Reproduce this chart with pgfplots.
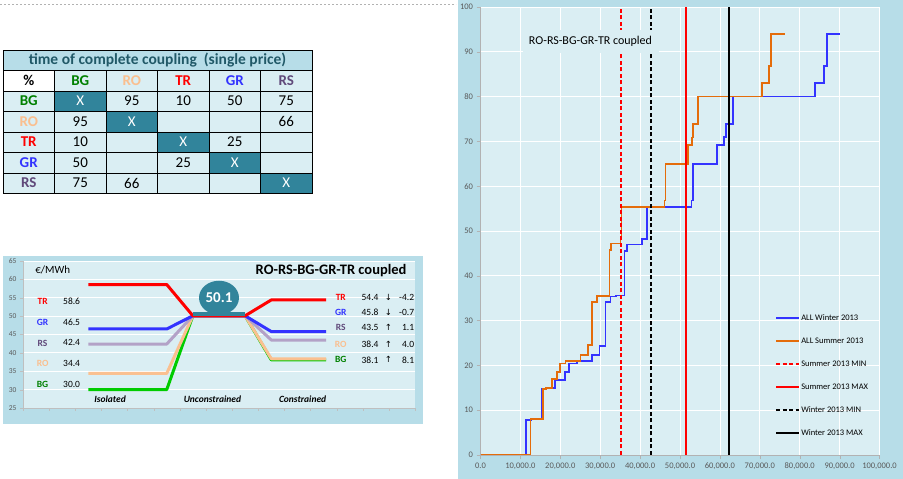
\documentclass[border=0pt]{standalone}
\usepackage{pgfplots}
\pgfplotsset{compat=1.18}
\usetikzlibrary{shapes.geometric}
\usepackage{fontspec}
\setmainfont{Carlito}
\newfontfamily\djv{DejaVu Sans}
\definecolor{frameblue}{HTML}{B7DDE8}
\definecolor{plotbg}{HTML}{DAEEF3}
\definecolor{tealc}{HTML}{31849B}
\definecolor{titlecol}{HTML}{215968}
\definecolor{bgc}{HTML}{008000}
\definecolor{roc}{HTML}{FABF8F}
\definecolor{trc}{HTML}{FF0000}
\definecolor{grc}{HTML}{3333FF}
\definecolor{rsc}{HTML}{60497A}
\definecolor{bgline}{HTML}{00CC00}
\definecolor{roline}{HTML}{FAC090}
\definecolor{rsline}{HTML}{B3A2C7}
\definecolor{winter}{HTML}{3333FF}
\definecolor{summer}{HTML}{E46C0A}
\definecolor{ticktext}{HTML}{595959}
\newcommand{\tc}[3]{\node[font=\fontsize{15}{18}\selectfont, anchor=center] at ({28.75+51.5*#1},{398.5-20.5*#2}) {#3};}
\begin{document}
\begin{tikzpicture}[x=1pt,y=1pt]
\path[use as bounding box] (0pt,0pt) rectangle (903pt,479pt);
\draw[gray!60, dash pattern=on 2pt off 2pt, line width=0.6pt] (0,475) -- (456,475);
% ---------- table ----------
\fill[frameblue] (3,409) rectangle (312,429);
\fill[plotbg] (3,285.5) rectangle (312,409);
\fill[white] (3,388) rectangle (54.5,409);
\foreach \r in {1,...,5}{
  \fill[tealc] ({3+51.5*\r},{388-(\r-1)*20.5}) rectangle ({54.5+51.5*\r},{388-\r*20.5});
}
\draw[black, line width=0.6pt] (3,285.5) rectangle (312,429);
\foreach \yy in {409,388,367.5,347,326.5,306}{\draw[black, line width=0.6pt] (3,\yy) -- (312,\yy);}
\foreach \xx in {54.5,106,157.5,209,260.5}{\draw[black, line width=0.6pt] (\xx,285.5) -- (\xx,409);}
\node[font=\fontsize{15.5}{18}\bfseries, text=titlecol] at (157.5,419) {time of complete coupling~~(single price)};
\tc{0}{0}{\bfseries\%}
\tc{1}{0}{\bfseries\color{bgc}BG}
\tc{2}{0}{\bfseries\color{roc}RO}
\tc{3}{0}{\bfseries\color{trc}TR}
\tc{4}{0}{\bfseries\color{grc}GR}
\tc{5}{0}{\bfseries\color{rsc}RS}
\tc{0}{1}{\bfseries\color{bgc}BG}
\tc{0}{2}{\bfseries\color{roc}RO}
\tc{0}{3}{\bfseries\color{trc}TR}
\tc{0}{4}{\bfseries\color{grc}GR}
\tc{0}{5}{\bfseries\color{rsc}RS}
\tc{1}{1}{\color{white}X}\tc{2}{1}{95}\tc{3}{1}{10}\tc{4}{1}{50}\tc{5}{1}{75}
\tc{1}{2}{95}\tc{2}{2}{\color{white}X}\tc{5}{2}{66}
\tc{1}{3}{10}\tc{3}{3}{\color{white}X}\tc{4}{3}{25}
\tc{1}{4}{50}\tc{3}{4}{25}\tc{4}{4}{\color{white}X}
\tc{1}{5}{75}\tc{2}{5}{66}\tc{5}{5}{\color{white}X}
% ---------- small price chart ----------
\fill[frameblue] (3,55) rectangle (423,223);
\begin{axis}[
  at={(23pt,71pt)}, anchor=south west, scale only axis, width=392pt, height=147pt,
  xmin=0, xmax=15, ymin=25, ymax=65,
  axis background/.style={fill=plotbg},
  axis lines*=left, axis line style={draw=gray!50},
  xtick={0,...,15}, xticklabels={},
  ytick={25,30,...,65},
  ymajorgrids, grid style={white, line width=0.8pt},
  tick align=outside, major tick length=3pt, tick style={gray!50},
  ticklabel style={font=\fontsize{7.5}{9}\selectfont, text=ticktext},
  /pgf/number format/assume math mode=true,
  clip=false,
]
\addplot[bgline, line width=3pt, line join=round] coordinates {(2.5,30.0)(5.5,30.0)(6.5,50.1)(8.5,50.1)(9.5,38.1)(11.6,38.1)};
\addplot[roline, line width=3pt, line join=round] coordinates {(2.5,34.4)(5.5,34.4)(6.5,50.1)(8.5,50.1)(9.5,38.4)(11.6,38.4)};
\addplot[rsline, line width=3pt, line join=round] coordinates {(2.5,42.4)(5.5,42.4)(6.5,50.1)(8.5,50.1)(9.5,43.5)(11.6,43.5)};
\addplot[winter, line width=3pt, line join=round] coordinates {(2.5,46.5)(5.5,46.5)(6.5,50.1)(8.5,50.1)(9.5,45.8)(11.6,45.8)};
\addplot[trc, line width=3pt, line join=round] coordinates {(2.5,58.6)(5.5,58.6)(6.5,50.1)(8.5,50.1)(9.5,54.4)(11.6,54.4)};
\fill[tealc] (axis cs:6.5,49.9) rectangle (axis cs:8.5,51.2);
\node[ellipse, fill=tealc, minimum width=40pt, minimum height=34pt, inner sep=0pt, text=white, font=\fontsize{15}{17}\bfseries] at (axis cs:7.5,55.0) {50.1};
\node[anchor=west, font=\fontsize{11}{13}\selectfont] at (axis cs:0.34,62.55) {€/MWh};
\node[anchor=east, font=\fontsize{14.5}{17}\bfseries] at (axis cs:14.81,62.3) {RO-RS-BG-GR-TR coupled};
\begin{scope}[font=\fontsize{9.5}{11}\selectfont]
\node[text=trc, font=\fontsize{9.5}{11}\bfseries] at (axis cs:0.75,54.1) {TR};
\node[text=grc, font=\fontsize{9.5}{11}\bfseries] at (axis cs:0.75,48.4) {GR};
\node[text=rsc, font=\fontsize{9.5}{11}\bfseries] at (axis cs:0.75,42.7) {RS};
\node[text=roc, font=\fontsize{9.5}{11}\bfseries] at (axis cs:0.75,37.0) {RO};
\node[text=bgc, font=\fontsize{9.5}{11}\bfseries] at (axis cs:0.75,31.3) {BG};
\node at (axis cs:1.86,54.1) {58.6};
\node at (axis cs:1.86,48.4) {46.5};
\node at (axis cs:1.86,42.7) {42.4};
\node at (axis cs:1.86,37.0) {34.4};
\node at (axis cs:1.86,31.3) {30.0};
\node[text=trc, font=\fontsize{9.5}{11}\bfseries] at (axis cs:12.16,55.2) {TR};
\node[text=grc, font=\fontsize{9.5}{11}\bfseries] at (axis cs:12.16,51.1) {GR};
\node[text=rsc, font=\fontsize{9.5}{11}\bfseries] at (axis cs:12.16,46.8) {RS};
\node[text=roc, font=\fontsize{9.5}{11}\bfseries] at (axis cs:12.16,42.4) {RO};
\node[text=bgc, font=\fontsize{9.5}{11}\bfseries] at (axis cs:12.16,38.1) {BG};
\node at (axis cs:13.28,55.2) {54.4};
\node at (axis cs:13.28,51.1) {45.8};
\node at (axis cs:13.28,46.8) {43.5};
\node at (axis cs:13.28,42.4) {38.4};
\node at (axis cs:13.28,38.1) {38.1};
\node[font=\djv\fontsize{8.5}{10}\selectfont] at (axis cs:13.98,55.2) {↓};
\node[font=\djv\fontsize{8.5}{10}\selectfont] at (axis cs:13.98,51.1) {↓};
\node[font=\djv\fontsize{8.5}{10}\selectfont] at (axis cs:13.98,46.8) {↑};
\node[font=\djv\fontsize{8.5}{10}\selectfont] at (axis cs:13.98,42.4) {↑};
\node[font=\djv\fontsize{8.5}{10}\selectfont] at (axis cs:13.98,38.1) {↑};
\node[anchor=east] at (axis cs:15.1,55.2) {-4.2};
\node[anchor=east] at (axis cs:15.1,51.1) {-0.7};
\node[anchor=east] at (axis cs:15.1,46.8) {1.1};
\node[anchor=east] at (axis cs:15.1,42.4) {4.0};
\node[anchor=east] at (axis cs:15.1,38.1) {8.1};
\end{scope}
\node[font=\fontsize{9.5}{11}\bfseries\itshape] at (axis cs:3.33,27.5) {Isolated};
\node[font=\fontsize{9.5}{11}\bfseries\itshape] at (axis cs:7.25,27.5) {Unconstrained};
\node[font=\fontsize{9.5}{11}\bfseries\itshape] at (axis cs:10.7,27.5) {Constrained};
\end{axis}
% ---------- right step chart ----------
\fill[frameblue] (458,0) rectangle (903,479);
\begin{axis}[
  at={(480.5pt,24pt)}, anchor=south west, scale only axis, width=399pt, height=448pt,
  xmin=0, xmax=100000, ymin=0, ymax=100,
  axis background/.style={fill=plotbg},
  axis lines*=left, axis line style={draw=gray!60},
  xtick={0,10000,...,100000}, ytick={0,10,...,100},
  xmajorgrids, ymajorgrids, grid style={white, line width=0.8pt},
  tick align=outside, major tick length=4pt, tick style={gray!60},
  scaled x ticks=false,
  /pgf/number format/assume math mode=true,
  xticklabel style={/pgf/number format/.cd, fixed, fixed zerofill, precision=1, 1000 sep={,}},
  ticklabel style={font=\fontsize{8.5}{10}\selectfont, text=ticktext},
  legend image code/.code={\draw[#1] (0pt,0pt) -- (23pt,0pt);},
  legend cell align=left,
  legend style={at={(rel axis cs:0.739,0.3164)}, anchor=north west, draw=none, fill=none,
    font=\fontsize{8.5}{10}\selectfont, row sep=13.5pt, inner sep=0pt,
    nodes={text height=6pt, text depth=1.5pt, inner sep=1pt}},
]
\addplot[color=winter, line width=1.7pt, const plot] coordinates {
(0,0)(11445,7.8)(12800,8.0)(15450,14.8)(16300,15.0)(18630,16.8)(21130,18.6)(22140,20.4)(24230,21.0)(27990,22.3)(29820,24.4)(31330,34.1)(32580,35.4)(34000,35.6)(36090,45.6)(36760,47.0)(40520,48.2)(41770,55.3)(52880,56.8)(53300,65.0)(59310,69.2)(60980,71.0)(61570,73.9)(63320,80.0)(83790,83.0)(86130,86.9)(86800,94.0)(90060,94.0)};
\addlegendentry{ALL Winter 2013}
\addplot[color=summer, line width=1.7pt, const plot] coordinates {
(0,0)(12530,8.0)(15620,14.8)(16500,15.0)(17960,17.0)(19210,18.6)(19880,20.4)(21300,21.0)(25060,22.3)(26980,24.5)(27990,34.2)(29240,35.5)(32330,45.8)(32750,47.2)(35090,48.5)(35350,55.4)(46110,56.8)(46360,65.0)(51960,69.2)(53050,70.9)(53300,73.9)(54550,80.0)(70590,83.0)(72260,86.9)(72850,94.0)(76190,94.0)};
\addlegendentry{ALL Summer 2013}
\addplot[color=red, line width=1.5pt, dash pattern=on 4pt off 2.5pt] coordinates {(35260,0)(35260,100)};
\addlegendentry{Summer 2013 MIN}
\addplot[color=red, solid, line width=1.5pt] coordinates {(51450,0)(51450,100)};
\addlegendentry{Summer 2013 MAX}
\addplot[color=black, line width=1.5pt, dash pattern=on 4pt off 2.5pt] coordinates {(42780,0)(42780,100)};
\addlegendentry{Winter 2013 MIN}
\addplot[color=black, solid, line width=1.6pt] coordinates {(62330,0)(62330,100)};
\addlegendentry{Winter 2013 MAX}
\node[fill=plotbg, minimum width=136pt, minimum height=23pt, inner sep=0pt, font=\fontsize{12}{14}\selectfont] at (axis cs:27570,92.3) {RO-RS-BG-GR-TR coupled};
\end{axis}
\end{tikzpicture}
\end{document}
